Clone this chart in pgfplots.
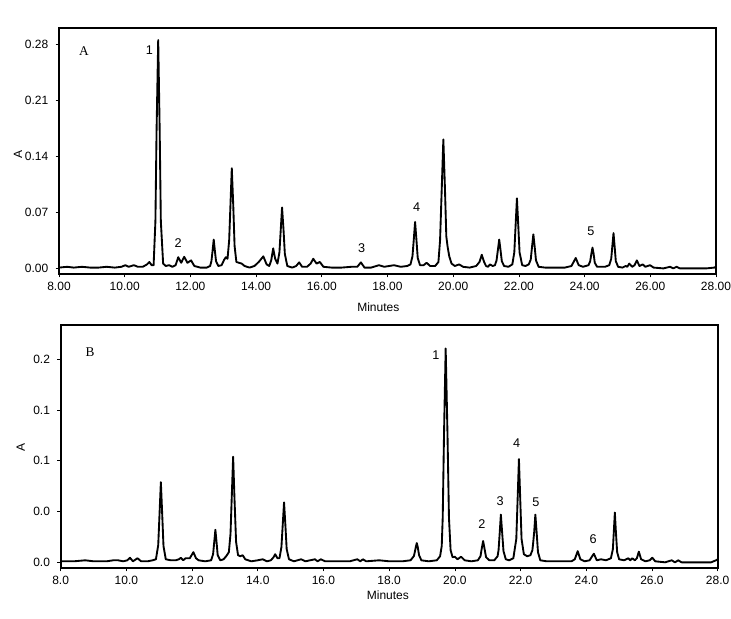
\documentclass[border=0pt]{standalone}
\usepackage{fontspec}
\setmainfont{Liberation Sans}
\newfontfamily\seriffont{Liberation Serif}
\usepackage{pgfplots}
\pgfplotsset{compat=1.18}

\pgfplotsset{
  chrom/.style={
    scale only axis,
    width=492.75pt,
    xmin=8, xmax=28,
    xtick={8,10,12,14,16,18,20,22,24,26,28},
    xtick pos=bottom, ytick pos=left,
    tick align=outside,
    major tick length=2.5pt,
    tick style={black, line width=0.5pt},
    axis line style={line width=1.5pt},
    /pgf/number format/assume math mode=true,
    tick label style={font=\fontsize{9}{10}\selectfont},
    yticklabel style={xshift=-2pt},
    label style={font=\fontsize{9}{10}\selectfont},
    ylabel={A},
    xlabel={Minutes},
    clip=true,
  },
  trace/.style={black, line width=1.4pt, line join=round, mark=none},
}
\tikzset{pk/.style={font=\fontsize{9.5}{11}\selectfont, inner sep=0pt}}

\begin{document}
\begin{tikzpicture}
\useasboundingbox (0,0) rectangle (548.25pt,-463.5pt);

% ---- panel A ----
\begin{axis}[chrom,
  at={(44.25pt,-205.5pt)}, anchor=south west,
  height=184.5pt,
  ymin=-0.007, ymax=0.300,
  xticklabels={8.00,10.00,12.00,14.00,16.00,18.00,20.00,22.00,24.00,26.00,28.00},
  ytick={0,0.07,0.14,0.21,0.28},
  yticklabels={0.00,0.07,0.14,0.21,0.28},
  xlabel style={at={(axis description cs:0.486,0)}, anchor=north, yshift=-18pt},
  ylabel style={at={(axis description cs:0,0.484)}, anchor=center, yshift=30.75pt},
]
\addplot[trace] coordinates {
(8.00,0.001)(8.25,0.002)(8.45,0.001)(8.70,0.002)(8.95,0.001)(9.20,0.001)
(9.45,0.002)(9.70,0.001)(9.90,0.002)(10.02,0.004)(10.12,0.002)(10.28,0.004)
(10.40,0.002)(10.55,0.002)(10.68,0.005)(10.75,0.008)(10.82,0.004)(10.88,0.004)
(10.935,0.059)(10.97,0.172)(11.02,0.285)(11.065,0.172)(11.10,0.059)(11.17,0.006)
(11.25,0.003)(11.35,0.004)(11.45,0.002)(11.55,0.004)(11.63,0.014)(11.72,0.007)
(11.81,0.0145)(11.91,0.007)(12.02,0.010)(12.12,0.003)(12.30,0.001)(12.50,0.001)
(12.60,0.003)(12.64,0.009)(12.675,0.022)(12.71,0.036)(12.745,0.022)(12.78,0.009)
(12.85,0.003)(12.95,0.004)(13.03,0.011)(13.08,0.014)(13.13,0.012)(13.18,0.035)
(13.22,0.080)(13.26,0.125)(13.305,0.078)(13.345,0.028)(13.40,0.008)(13.48,0.007)
(13.56,0.006)(13.65,0.003)(13.80,0.001)(13.95,0.003)(14.08,0.008)(14.22,0.015)
(14.32,0.005)(14.40,0.003)(14.46,0.010)(14.52,0.025)(14.58,0.012)(14.65,0.006)
(14.71,0.020)(14.75,0.048)(14.79,0.076)(14.835,0.048)(14.875,0.018)(14.95,0.003)
(15.10,0.001)(15.22,0.003)(15.31,0.0075)(15.40,0.002)(15.55,0.002)(15.66,0.006)
(15.74,0.012)(15.84,0.006)(15.94,0.008)(16.05,0.002)(16.30,0.001)(16.60,0.001)
(16.90,0.002)(17.08,0.002)(17.19,0.0075)(17.30,0.001)(17.50,0.001)(17.74,0.004)
(17.90,0.002)(18.20,0.004)(18.40,0.002)(18.60,0.003)(18.70,0.005)(18.76,0.015)
(18.80,0.036)(18.84,0.058)(18.88,0.036)(18.92,0.013)(18.99,0.004)(19.10,0.004)
(19.19,0.007)(19.30,0.003)(19.45,0.003)(19.55,0.008)(19.60,0.035)(19.65,0.098)
(19.70,0.161)(19.75,0.098)(19.79,0.040)(19.83,0.027)(19.88,0.015)(19.95,0.006)
(20.05,0.003)(20.18,0.005)(20.30,0.002)(20.50,0.001)(20.70,0.003)(20.80,0.008)
(20.87,0.017)(20.94,0.008)(21.00,0.003)(21.06,0.002)(21.12,0.005)(21.20,0.003)
(21.27,0.004)(21.32,0.010)(21.36,0.023)(21.40,0.036)(21.44,0.023)(21.48,0.009)
(21.55,0.003)(21.68,0.002)(21.80,0.005)(21.86,0.020)(21.90,0.054)(21.94,0.0875)
(21.98,0.054)(22.02,0.020)(22.10,0.004)(22.20,0.003)(22.30,0.005)(22.36,0.011)
(22.40,0.027)(22.44,0.0425)(22.48,0.027)(22.52,0.010)(22.60,0.002)(22.80,0.001)
(23.10,0.001)(23.40,0.001)(23.60,0.003)(23.73,0.013)(23.82,0.004)(23.95,0.002)
(24.12,0.004)(24.17,0.009)(24.205,0.018)(24.24,0.026)(24.275,0.018)(24.31,0.007)
(24.38,0.002)(24.50,0.002)(24.62,0.002)(24.75,0.004)(24.81,0.012)(24.845,0.028)
(24.88,0.044)(24.915,0.027)(24.95,0.009)(25.02,0.002)(25.15,0.001)(25.25,0.003)
(25.30,0.002)(25.36,0.006)(25.45,0.002)(25.52,0.004)(25.59,0.010)(25.67,0.003)
(25.77,0.005)(25.85,0.002)(25.99,0.004)(26.10,0.001)(26.40,0.000)(26.60,0.002)
(26.70,0.000)(26.80,0.002)(26.90,0.000)(27.30,0.000)(27.70,0.000)(27.95,0.001)
(28.00,0.002)
};
\node[font=\seriffont\fontsize{10}{12}\selectfont] at (axis description cs:0.038,0.907) {A};
\node[pk] at (axis cs:10.75,0.272) {1};
\node[pk] at (axis cs:11.63,0.032) {2};
\node[pk] at (axis cs:17.21,0.025) {3};
\node[pk] at (axis cs:18.89,0.076) {4};
\node[pk] at (axis cs:24.19,0.046) {5};
\end{axis}

% ---- panel B ----
\begin{axis}[chrom,
  at={(45.5pt,-426pt)}, anchor=south west,
  height=182.5pt,
  ymin=-0.0056, ymax=0.234,
  xticklabels={8.0,10.0,12.0,14.0,16.0,18.0,20.0,22.0,24.0,26.0,28.0},
  ytick={0,0.05,0.1,0.15,0.2},
  yticklabels={0.0,0.0,0.1,0.1,0.2},
  xlabel style={at={(axis description cs:0.498,0)}, anchor=north, yshift=-13.5pt},
  ylabel style={at={(axis description cs:0,0.497)}, anchor=center, yshift=30pt},
]
\addplot[trace] coordinates {
(8.00,0.001)(8.40,0.001)(8.75,0.002)(9.00,0.001)(9.40,0.001)(9.60,0.002)
(9.75,0.002)(9.90,0.001)(10.03,0.002)(10.11,0.0045)(10.20,0.001)(10.34,0.004)
(10.45,0.001)(10.65,0.001)(10.80,0.002)(10.90,0.003)(10.97,0.017)(11.01,0.048)
(11.05,0.079)(11.09,0.048)(11.13,0.016)(11.20,0.003)(11.35,0.002)(11.50,0.002)
(11.60,0.003)(11.66,0.0045)(11.73,0.002)(11.80,0.004)(11.87,0.004)(11.93,0.004)
(12.04,0.010)(12.12,0.004)(12.20,0.002)(12.40,0.001)(12.58,0.002)(12.64,0.008)
(12.675,0.020)(12.71,0.032)(12.745,0.020)(12.78,0.007)(12.86,0.002)(12.96,0.003)
(13.05,0.0065)(13.12,0.010)(13.17,0.028)(13.21,0.066)(13.25,0.104)(13.29,0.064)
(13.34,0.020)(13.40,0.007)(13.47,0.006)(13.54,0.007)(13.62,0.003)(13.80,0.001)
(14.00,0.002)(14.15,0.003)(14.28,0.001)(14.40,0.002)(14.48,0.005)(14.53,0.008)
(14.60,0.004)(14.66,0.004)(14.72,0.015)(14.76,0.037)(14.80,0.059)(14.84,0.037)
(14.88,0.013)(14.95,0.003)(15.10,0.001)(15.32,0.003)(15.45,0.001)(15.74,0.003)
(15.82,0.001)(15.92,0.003)(16.05,0.001)(16.50,0.001)(16.80,0.001)(17.03,0.003)
(17.12,0.001)(17.20,0.003)(17.30,0.001)(17.70,0.002)(18.00,0.001)(18.40,0.001)
(18.65,0.002)(18.75,0.006)(18.78,0.010)(18.81,0.015)(18.84,0.019)(18.87,0.015)
(18.91,0.007)(18.98,0.002)(19.20,0.001)(19.45,0.002)(19.55,0.006)(19.60,0.016)
(19.63,0.044)(19.67,0.127)(19.72,0.2106)(19.775,0.127)(19.82,0.044)(19.87,0.012)
(19.93,0.005)(20.00,0.0055)(20.08,0.003)(20.19,0.0055)(20.30,0.002)(20.50,0.001)
(20.70,0.002)(20.78,0.006)(20.815,0.013)(20.86,0.021)(20.905,0.013)(20.95,0.005)
(21.05,0.002)(21.20,0.002)(21.30,0.006)(21.33,0.012)(21.365,0.029)(21.40,0.047)
(21.44,0.029)(21.48,0.011)(21.55,0.003)(21.65,0.002)(21.78,0.004)(21.87,0.023)
(21.91,0.062)(21.95,0.1017)(21.99,0.062)(22.03,0.023)(22.10,0.008)(22.20,0.006)
(22.30,0.007)(22.36,0.012)(22.38,0.018)(22.415,0.030)(22.45,0.047)(22.49,0.029)
(22.53,0.010)(22.60,0.002)(22.80,0.001)(23.20,0.001)(23.55,0.001)(23.65,0.003)
(23.74,0.011)(23.82,0.003)(23.95,0.001)(24.10,0.002)(24.23,0.0085)(24.32,0.002)
(24.45,0.003)(24.60,0.002)(24.75,0.004)(24.81,0.013)(24.84,0.031)(24.87,0.049)
(24.90,0.031)(24.94,0.010)(25.00,0.003)(25.15,0.002)(25.28,0.004)(25.34,0.002)
(25.40,0.004)(25.48,0.002)(25.54,0.004)(25.60,0.0105)(25.67,0.003)(25.80,0.001)
(25.93,0.002)(26.01,0.0045)(26.10,0.001)(26.40,0.000)(26.60,0.002)(26.70,0.000)
(26.80,0.002)(26.90,0.000)(27.40,0.000)(27.80,0.000)(27.95,0.002)(28.00,0.003)
};
\node[font=\seriffont\fontsize{10}{12}\selectfont] at (axis description cs:0.0446,0.887) {B};
\node[pk] at (axis cs:19.42,0.204) {1};
\node[pk] at (axis cs:20.82,0.038) {2};
\node[pk] at (axis cs:21.38,0.0606) {3};
\node[pk] at (axis cs:21.88,0.1177) {4};
\node[pk] at (axis cs:22.47,0.059) {5};
\node[pk] at (axis cs:24.21,0.023) {6};
\end{axis}
\end{tikzpicture}
\end{document}
